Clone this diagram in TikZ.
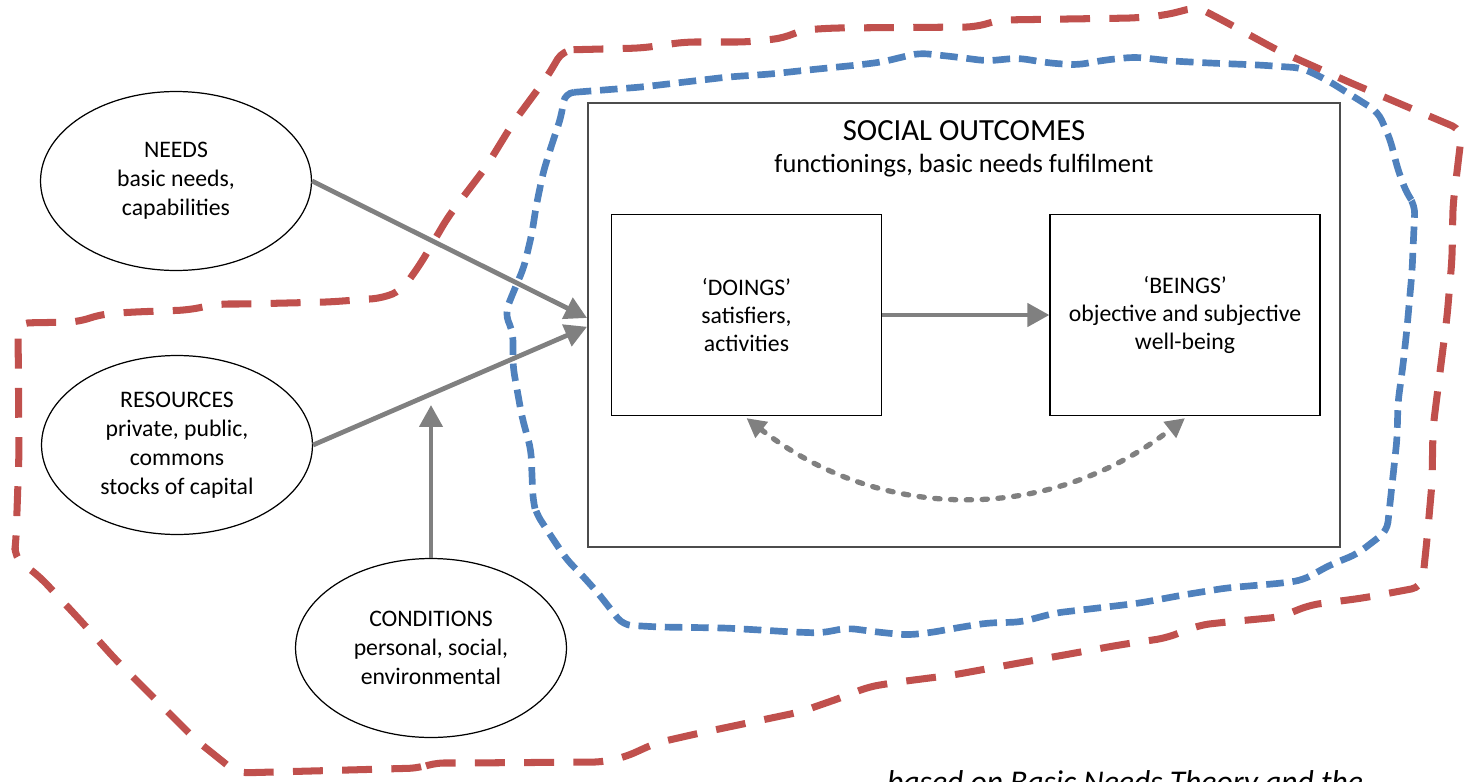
\documentclass[tikz,border=0pt]{standalone}
\usepackage{fontspec}
\setmainfont{Carlito}
\usetikzlibrary{shapes.geometric, arrows.meta, positioning}
\definecolor{loopred}{RGB}{192,80,77}
\definecolor{loopblue}{RGB}{79,129,189}
\definecolor{flowgrey}{RGB}{128,128,128}

\begin{document}
\begin{tikzpicture}[x=0.02cm, y=-0.02cm,
	factor/.style={ellipse, draw, line width=0.7pt, minimum width=5.42cm, minimum height=3.58cm, align=center, font=\fontsize{13.5}{16.5}\selectfont},
	state/.style={rectangle, draw, line width=0.7pt, minimum width=5.4cm, minimum height=4.03cm, align=center, font=\fontsize{13.5}{16}\selectfont},
	flow/.style={draw=flowgrey, line width=2.7pt, -{Triangle[length=12.5pt, width=13pt]}},
	feedback/.style={draw=flowgrey, line width=3pt, line cap=round, dash pattern=on 3pt off 6pt, {Triangle[length=11pt, width=11pt]}-{Triangle[length=11pt, width=11pt]}},
	redloop/.style={draw=loopred, line width=4pt, dash pattern=on 17pt off 11pt, rounded corners=6pt},
	blueloop/.style={draw=loopblue, line width=3.8pt, dash pattern=on 10pt off 5pt, rounded corners=5pt}]
		\useasboundingbox (0,0) rectangle (1467,781);
		%%%%%%%%%%%%%
		\node[factor] (needs) at (176,181) {NEEDS\\basic needs,\\capabilities};
		\node[factor] (resources) at (177,445) {RESOURCES\\private, public,\\commons\\stocks of capital};
		\node[factor] (conditions) at (431,648) {CONDITIONS\\personal, social,\\environmental};
		\node[draw=black!70, line width=1.2pt, minimum width=15.04cm, minimum height=8.88cm] (outcomes) at (964,325) {};
		\node[font=\fontsize{17.5}{20}\selectfont] (heading) at (964,131) {SOCIAL OUTCOMES};
		\node[font=\fontsize{15}{18}\selectfont] (subheading) at (964,166) {functionings, basic needs fulfilment};
		\node[state] (doings) at (746.5,315) {`DOINGS'\\satisfiers,\\activities};
		\node[state] (beings) at (1185,315) {`BEINGS'\\objective and subjective\\well-being};
		\node[anchor=base west, font=\fontsize{18}{20}\selectfont\itshape] (source) at (881,792) {based on Basic Needs Theory and the};
		\coordinate (condtip) at (431,405);
		%%%%%%%%%%%%%
		\draw[flow] (needs.east) -- ([yshift=4pt]outcomes.west);
		\draw[flow] (resources.east) -- ([yshift=-1pt]outcomes.west);
		\draw[flow] (conditions) -- (condtip);
		\draw[flow] (doings) -- (beings);
		\draw[feedback] ([yshift=-1pt]doings.south) to[bend right=38] ([yshift=-1pt]beings.south);
		%%%%%%%%%%%%% outer loop
		\draw[redloop] (563,50) -- (642,48) -- (685,42) -- (747,42) -- (784,38) -- (802,30) -- (833,28) -- (975,27) -- (1000,20) -- (1135,18) -- (1166,15) -- (1197,7)
			-- (1222,20) -- (1277,50) -- (1351,83) -- (1462,130)
			-- (1453,205) -- (1452,259) -- (1447,317) -- (1440,372) -- (1433,428) -- (1432,483) -- (1427,539) -- (1422,587)
			-- (1363,598) -- (1310,605) -- (1280,617) -- (1227,622) -- (1200,625) -- (1166,638) -- (1119,645) -- (1064,655) -- (1008,665) -- (953,675) -- (898,682) -- (868,687) -- (843,697) -- (800,712) -- (700,733) -- (656,743) -- (625,757) -- (603,762) -- (460,763) -- (433,763) -- (420,768) -- (348,770) -- (237,773)
			-- (196,740) -- (156,700) -- (116,660) -- (80,620) -- (40,577) -- (14,557)
			-- (16,540) -- (19,453) -- (18,323)
			-- (77,322) -- (103,314) -- (134,312) -- (188,310) -- (218,304) -- (245,304) -- (329,302) -- (383,298) -- (402,290)
			-- (421,263) -- (448,217) -- (486,167) -- (513,123) -- (547,77) -- cycle;
		%%%%%%%%%%%%% inner loop
		\draw[blueloop] (565,93) -- (642,87) -- (685,82) -- (728,77) -- (771,74) -- (808,70) -- (858,65) -- (882,62) -- (919,53) -- (956,57) -- (987,61) -- (1018,58) -- (1049,63) -- (1077,65) -- (1105,60) -- (1135,57) -- (1172,61) -- (1209,63) -- (1259,65) -- (1302,68)
			-- (1327,80) -- (1351,95) -- (1378,112) -- (1390,139) -- (1398,170) -- (1407,194) -- (1415,205)
			-- (1412,272) -- (1407,328) -- (1403,365) -- (1398,402) -- (1397,439) -- (1393,476) -- (1387,531)
			-- (1357,554) -- (1330,565) -- (1303,580) -- (1283,583) -- (1226,588) -- (1183,595) -- (1140,603) -- (1098,608) -- (1055,613) -- (1021,622) -- (987,623) -- (962,627) -- (928,633) -- (906,635) -- (877,632) -- (847,628) -- (821,633) -- (793,632) -- (726,628) -- (659,627) -- (623,625)
			-- (598,593) -- (580,573) -- (567,560) -- (549,533) -- (536,513) -- (533,500) -- (531,450) -- (522,417) -- (513,367) -- (513,333) -- (505,313)
			-- (513,293) -- (524,267) -- (532,233) -- (536,207) -- (543,173) -- (551,147) -- (561,117) -- cycle;
\end{tikzpicture}
\end{document}
